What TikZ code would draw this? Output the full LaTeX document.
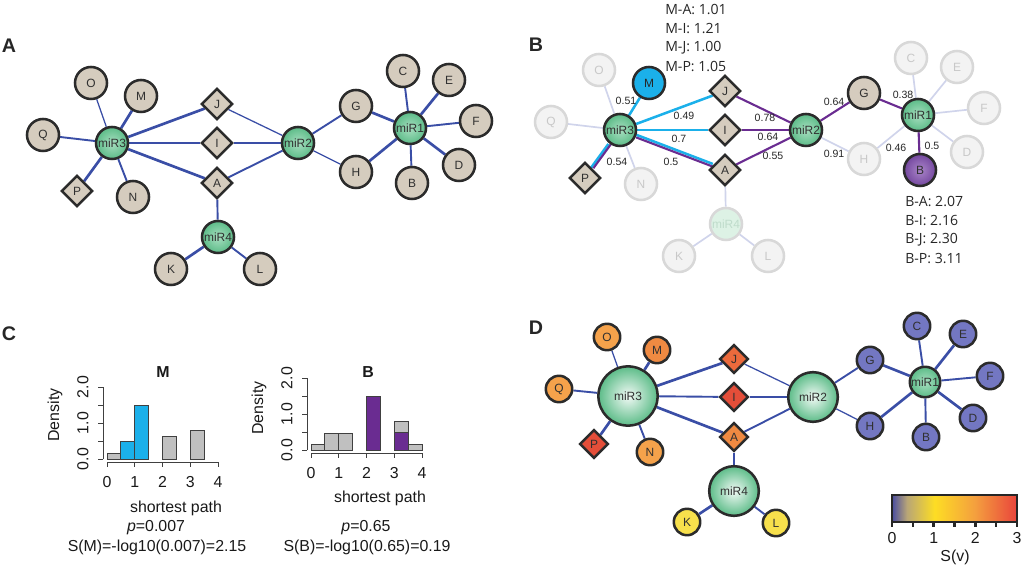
\documentclass[tikz,border=0pt]{standalone}
\usepackage{fontspec}
\setmainfont{Liberation Sans}
\newfontfamily\annfont{Open Sans}
\usetikzlibrary{shapes.geometric,backgrounds}

\definecolor{linkblue}{HTML}{3A4EA6}
\definecolor{nodeline}{HTML}{2B2B2B}
\definecolor{nodetext}{HTML}{303030}
\definecolor{beige}{HTML}{D5CCBE}
\definecolor{mirout}{HTML}{5CBC88}
\definecolor{mirin}{HTML}{A8DEC0}
\definecolor{ghostfill}{HTML}{F3F3F3}
\definecolor{ghostline}{HTML}{D8D8D8}
\definecolor{ghosttext}{HTML}{C8C8C8}
\definecolor{ghostgreen}{HTML}{DDF2E5}
\definecolor{ghostgtext}{HTML}{BFDCCB}
\definecolor{fadelink}{HTML}{D0D4EB}
\definecolor{pathcyan}{HTML}{1BB0EA}
\definecolor{pathpurple}{HTML}{6A2C91}
\definecolor{bin}{HTML}{A985C8}
\definecolor{bout}{HTML}{74479F}
\definecolor{histgray}{HTML}{C0C0C0}
\definecolor{lowS}{HTML}{7377C2}
\definecolor{sOrange}{HTML}{F5A24B}
\definecolor{sDark}{HTML}{EF8A42}
\definecolor{sRed}{HTML}{E44E39}
\definecolor{sRedOr}{HTML}{EB6A3C}
\definecolor{sYellow}{HTML}{F7E04C}
\definecolor{sv0}{HTML}{4A4DA0}
\definecolor{svtan}{HTML}{B9A676}
\definecolor{sv1}{HTML}{FDDD24}
\definecolor{sv2}{HTML}{F4A03E}
\definecolor{sv3}{HTML}{E9443C}

\pgfdeclarehorizontalshading{svheat}{100bp}{color(0bp)=(sv0); color(25bp)=(sv0); color(31bp)=(svtan); color(42bp)=(sv1); color(58bp)=(sv2); color(75bp)=(sv3); color(100bp)=(sv3)}

\tikzset{
  leaf/.style={circle, draw=nodeline, line width=1.8pt, fill=beige, text=nodetext,
    minimum size=0.8cm, inner sep=0pt, font=\fontsize{8.5}{9}\selectfont},
  drug/.style={leaf, diamond, minimum size=0.78cm},
  mir/.style={leaf, inner color=mirin, outer color=mirout},
  ghost/.style={leaf, draw=ghostline, fill=ghostfill, text=ghosttext},
  ghostmir/.style={ghost, fill=ghostgreen, text=ghostgtext},
  wlink/.style={draw=linkblue, line width=0.9pt},
  mlink/.style={draw=linkblue, line width=1.35pt},
  slink/.style={draw=linkblue, line width=1.9pt},
  fade/.style={draw=fadelink, line width=1.2pt},
  cpath/.style={draw=pathcyan, line width=1.8pt},
  ppath/.style={draw=pathpurple, line width=1.5pt},
  wt/.style={font=\fontsize{7.5}{8}\selectfont, text=black!85, inner sep=0pt},
  ann/.style={font=\annfont\fontsize{10}{12}\selectfont, anchor=west, inner sep=0pt, text=black!85},
  panel/.style={font=\fontsize{14}{15}\selectfont\bfseries, inner sep=0pt, text=black!85},
  plottext/.style={font=\fontsize{11.3}{13}\selectfont, inner sep=0pt, text=black!90},
  bar/.style={draw=black!75, line width=0.6pt},
  axis/.style={draw=black!75, line width=0.7pt},
}

\begin{document}
\begin{tikzpicture}[x=0.025cm, y=-0.025cm]
\useasboundingbox (0,0) rectangle (1024,569);

% A: network
\node[panel] (labA) at (9,46) {A};
\foreach \n/\x/\y in {O/91/83, M/141/96, Q/43/135, N/133/197, K/171/269, L/260/269, G/356/106,
  H/356/172, C/403/71, E/449/80, F/476/121, D/459/165, B/412/183}
  \node[leaf] (a\n) at (\x,\y) {\n};
\foreach \n/\x/\y in {P/77/191, J/217/104, I/217/143, A/217/183}
  \node[drug] (a\n) at (\x,\y) {\n};
\foreach \n/\x/\y in {3/112/143, 4/218/237, 2/298/143, 1/410/128}
  \node[mir] (aR\n) at (\x,\y) {miR\n};

% B: shortest paths from M and B
\node[panel] (labB) at (536,45) {B};
\begin{scope}[shift={(508,-13)}]
\foreach \n/\x/\y in {O/91/83, Q/43/135, N/133/197, K/171/269, L/260/269, H/356/172,
  C/403/71, E/449/80, F/476/121, D/459/165}
  \node[ghost] (b\n) at (\x,\y) {\n};
\node[leaf, fill=pathcyan, text=black!85] (bM) at (141,96) {M};
\node[leaf, inner color=bin, outer color=bout] (bB) at (412,183) {B};
\node[leaf] (bG) at (356,106) {G};
\foreach \n/\x/\y in {P/77/191, J/217/104, I/217/143, A/217/183}
  \node[drug] (b\n) at (\x,\y) {\n};
\foreach \n/\x/\y in {3/112/143, 2/298/143, 1/410/128}
  \node[mir] (bR\n) at (\x,\y) {miR\n};
\node[ghostmir] (bR4) at (218,237) {miR4};
\end{scope}
\foreach \t/\x/\y [count=\i] in {0.51/626/101, 0.49/684/116, 0.7/679/139, 0.54/617/162,
  0.5/671/162, 0.78/765/118, 0.64/768/137, 0.55/773/156, 0.64/834/102, 0.91/834/154,
  0.38/903/95, 0.46/896/148, 0.5/932/146}
  \node[wt] (w\i) at (\x,\y) {\t};
\foreach \t [count=\i] in {M-A: 1.01, M-I: 1.21, M-J: 1.00, M-P: 1.05}
  \node[ann] (mline\i) at (665,{-9+19*\i}) {\t};
\foreach \t [count=\i] in {B-A: 2.07, B-I: 2.16, B-J: 2.30, B-P: 3.11}
  \node[ann] (bline\i) at (905,{183+19*\i}) {\t};

% D: scored network
\node[panel] (labD) at (536,328) {D};
\foreach \n/\x/\y/\c in {O/607/337/sOrange, M/657/350/sDark, Q/559/389/sOrange, N/650/452/sOrange,
  K/687/522/sYellow, L/776/523/sYellow, G/870/360/lowS, H/870/426/lowS, C/917/326/lowS,
  E/963/334/lowS, F/990/376/lowS, D/973/418/lowS, B/926/437/lowS}
  \node[leaf, minimum size=0.66cm, fill=\c] (d\n) at (\x,\y) {\n};
\foreach \n/\x/\y/\c in {P/594/444/sRed, J/734/359/sRedOr, I/734/397/sRed, A/734/437/sDark}
  \node[drug, minimum size=0.72cm, fill=\c] (d\n) at (\x,\y) {\n};
\node[mir, minimum size=1.48cm, inner color=white!92!mirout] (dR3) at (628,396) {miR3};
\node[mir, minimum size=1.24cm, inner color=white!92!mirout] (dR4) at (734,491) {miR4};
\node[mir, minimum size=1.24cm, inner color=white!92!mirout] (dR2) at (813,397) {miR2};
\node[mir, minimum size=0.76cm] (dR1) at (925,382) {miR1};

% links behind the nodes
\begin{pgfonlayer}{background}
\foreach \p in {a,d}
  \foreach \u/\v/\w in {R3/O/wlink, R3/M/slink, R3/Q/mlink, R3/P/slink, R3/N/mlink, R3/J/slink,
    R3/I/mlink, R3/A/slink, J/R2/wlink, I/R2/mlink, A/R2/mlink, A/R4/mlink, R4/K/slink,
    R4/L/mlink, R2/G/mlink, R2/H/wlink, G/R1/slink, H/R1/slink, R1/C/mlink, R1/E/slink,
    R1/F/mlink, R1/D/slink, R1/B/mlink}
    \draw[\w] (\p\u) -- (\p\v);
\foreach \u/\v in {R3/O, R3/Q, R3/N, A/R4, R4/K, R4/L, R2/H, H/R1, R1/C, R1/E, R1/F, R1/D}
  \draw[fade] (b\u) -- (b\v);
\foreach \u/\v in {R3/M, R3/J, R3/I}
  \draw[cpath] (b\u) -- (b\v);
\foreach \u/\v in {J/R2, I/R2, A/R2, R2/G, G/R1, R1/B}
  \draw[ppath] (b\u) -- (b\v);
\draw[cpath, transform canvas={shift={(0,1pt)}}] (bR3) -- (bA);
\draw[ppath, transform canvas={shift={(0,-0.9pt)}}] (bR3) -- (bA);
\draw[cpath, transform canvas={shift={(-1pt,0)}}] (bR3) -- (bP);
\draw[ppath, transform canvas={shift={(0.9pt,0)}}] (bR3) -- (bP);
\end{pgfonlayer}

% C: histograms
\node[panel] (labC) at (9,334) {C};
\node[plottext, font=\fontsize{11.3}{13}\selectfont\bfseries] (mTitle) at (163,372) {M};
\draw[axis] (103,459) -- (103,387);
\foreach \t in {0,0.5,1,1.5,2} \draw[axis] (103,{459-36*\t}) -- ++(-5,0);
\foreach \t/\l in {0/0.0, 1/1.0, 2/2.0}
  \node[plottext, rotate=90] (my\t) at (83,{459-36*\t}) {\l};
\node[plottext, rotate=90] (mDens) at (55,415) {Density};
\draw[axis] (107,462) -- (218,462);
\foreach \k in {0,...,4} {
  \draw[axis] ({107+27.75*\k},462) -- ++(0,5);
  \node[plottext] (mx\k) at ({107+27.75*\k},482) {\k};
}
\foreach \s/\h/\c in {0/0.15/histgray, 0.5/0.5/pathcyan, 1/1.5/pathcyan, 2/0.63/histgray, 3/0.79/histgray}
  \draw[bar, fill=\c] ({107+27.75*\s},459) rectangle ({107+27.75*(\s+0.5)},{459-36*\h});
\node[plottext] (mXlab) at (176,508) {shortest path};
\node[plottext] (mP) at (156,528) {\textit{p}=0.007};
\node[plottext] (mS) at (157,547) {S(M)=-log10(0.007)=2.15};

\node[plottext, font=\fontsize{11.3}{13}\selectfont\bfseries] (bTitle) at (368,372) {B};
\draw[axis] (307,450) -- (307,378);
\foreach \t in {0,0.5,1,1.5,2} \draw[axis] (307,{450-36*\t}) -- ++(-5,0);
\foreach \t/\l in {0/0.0, 1/1.0, 2/2.0}
  \node[plottext, rotate=90] (by\t) at (287,{450-36*\t}) {\l};
\node[plottext, rotate=90] (bDens) at (259,408) {Density};
\draw[axis] (311,453) -- (422,453);
\foreach \k in {0,...,4} {
  \draw[axis] ({311+27.75*\k},453) -- ++(0,5);
  \node[plottext] (bx\k) at ({311+27.75*\k},473) {\k};
}
\foreach \s/\h/\c in {0/0.16/histgray, 0.5/0.47/histgray, 1/0.47/histgray, 2/1.5/pathpurple,
  3/0.79/histgray, 3.5/0.15/histgray, 3/0.5/pathpurple}
  \draw[bar, fill=\c] ({311+27.75*\s},450) rectangle ({311+27.75*(\s+0.5)},{450-36*\h});
\node[plottext] (bXlab) at (380,498) {shortest path};
\node[plottext] (bP) at (366,528) {\textit{p}=0.65};
\node[plottext] (bS) at (367,547) {S(B)=-log10(0.65)=0.19};

% colour key
\shade[shading=svheat] (892,495) rectangle (1017,522);
\draw[line width=1.8pt, draw=black!85] (892,495) rectangle (1017,522);
\foreach \k in {0,...,6} \draw[line width=1.8pt, draw=black!85] ({892+125/6*\k},522) -- ++(0,5);
\foreach \k in {0,...,3} \node[plottext] (cb\k) at ({892+125/3*\k},538) {\k};
\node[plottext] (svlab) at (955,557) {S(v)};
\end{tikzpicture}
\end{document}
